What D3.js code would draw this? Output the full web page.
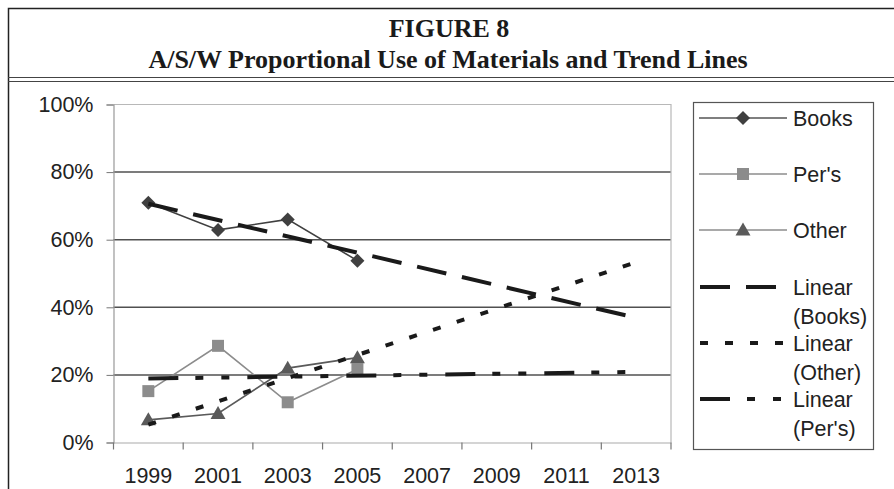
<!DOCTYPE html>
<html>
<head>
<meta charset="utf-8">
<script src="https://cdn.jsdelivr.net/npm/d3@7"></script>
<style>
  body { margin: 0; background: #fff; }
  svg { display: block; }
</style>
</head>
<body>
<div id="chart"></div>
<script>
const years = ['1999', '2001', '2003', '2005', '2007', '2009', '2011', '2013'];
const books = [0.709, 0.629, 0.660, 0.538];
const pers = [0.152, 0.286, 0.119, 0.217];
const other = [0.067, 0.086, 0.220, 0.251];
const yTicks = [0, 0.2, 0.4, 0.6, 0.8, 1];

const width = 894, height = 489;
const svg = d3.select('#chart').append('svg')
    .attr('width', width)
    .attr('height', height);

// frame + title
svg.append('path')
    .attr('d', 'M8.5,489V8.5H894')
    .attr('fill', 'none').attr('stroke', '#222').attr('stroke-width', 1.5);
svg.append('line').attr('x1', 8).attr('x2', 894).attr('y1', 77.5).attr('y2', 77.5)
    .attr('stroke', '#444').attr('stroke-width', 1.2);
svg.append('line').attr('x1', 8).attr('x2', 894).attr('y1', 81.5).attr('y2', 81.5)
    .attr('stroke', '#444').attr('stroke-width', 1.2);

const titleFont = '"Liberation Serif", "Times New Roman", serif';
svg.append('text').attr('x', 449).attr('y', 37)
    .attr('text-anchor', 'middle').attr('font-family', titleFont)
    .attr('font-weight', 'bold').attr('font-size', 26).attr('fill', '#1a1a1a')
    .text('FIGURE 8');
svg.append('text').attr('x', 448).attr('y', 67.5)
    .attr('text-anchor', 'middle').attr('font-family', titleFont)
    .attr('font-weight', 'bold').attr('font-size', 26).attr('fill', '#1a1a1a')
    .text('A/S/W Proportional Use of Materials and Trend Lines');

const font = '"Liberation Sans", Arial, sans-serif';
const plot = { left: 113.5, right: 671, top: 104.5, bottom: 442.5 };

const x = d3.scaleBand().domain(years).range([plot.left, plot.right]).padding(0);
const y = d3.scaleLinear().domain([0, 1]).range([plot.bottom, plot.top]);
const cx = i => x(years[i]) + x.bandwidth() / 2;

// gridlines
svg.append('g').selectAll('line')
    .data(yTicks.filter(t => t > 0 && t < 1))
    .join('line')
    .attr('x1', plot.left).attr('x2', plot.right)
    .attr('y1', d => y(d)).attr('y2', d => y(d))
    .attr('stroke', '#505050').attr('stroke-width', 1.5);

// plot border top/right
svg.append('path')
    .attr('d', `M${plot.left},${y(1)}H${plot.right}V${plot.bottom}`)
    .attr('fill', 'none').attr('stroke', '#b8b8b8').attr('stroke-width', 1.2);

// y axis
const yAxis = d3.axisLeft(y).tickValues(yTicks).tickFormat(d3.format('.0%')).tickSize(7).tickPadding(13);
const gy = svg.append('g').attr('transform', `translate(${plot.left},0)`).call(yAxis);
gy.select('.domain').attr('stroke', '#999').attr('stroke-width', 1.2);
gy.selectAll('.tick line').attr('stroke', '#777');
gy.selectAll('text').attr('font-family', font).attr('font-size', 21.5).attr('fill', '#222');

// x axis
const xAxis = d3.axisBottom(x).tickSize(0).tickPadding(25);
const gx = svg.append('g').attr('transform', `translate(0,${plot.bottom})`).call(xAxis);
gx.select('.domain').attr('stroke', '#aaa').attr('stroke-width', 1.2);
gx.selectAll('text').attr('font-family', font).attr('font-size', 21.5).attr('fill', '#222');
const bounds = years.map(c => x(c)).concat([x.range()[1]]);
gx.selectAll('.bound').data(bounds).join('line')
    .attr('class', 'bound')
    .attr('x1', d => d).attr('x2', d => d)
    .attr('y1', 0).attr('y2', 7)
    .attr('stroke', '#777').attr('stroke-width', 1.2);

// data series
const series = [
    { name: 'Books', values: books, color: '#404040', marker: 'diamond' },
    { name: "Per's", values: pers, color: '#8c8c8c', marker: 'square' },
    { name: 'Other', values: other, color: '#5a5a5a', marker: 'triangle' }
];

function markerPath(type) {
    if (type === 'diamond') return 'M0,-7L7,0L0,7L-7,0Z';
    if (type === 'square') return 'M-6,-6H6V6H-6Z';
    return 'M0,-7.5L7.5,5.5H-7.5Z';
}

const line = d3.line().x((d, i) => cx(i)).y(d => y(d));

series.forEach(s => {
    svg.append('path').datum(s.values)
        .attr('d', line)
        .attr('fill', 'none').attr('stroke', s.color).attr('stroke-width', 1.6);
    svg.append('g').selectAll('path').data(s.values).join('path')
        .attr('d', markerPath(s.marker))
        .attr('transform', (d, i) => `translate(${cx(i)},${y(d)})`)
        .attr('fill', s.color);
});

// linear trend lines (least squares over the 4 points, forecast to 2013)
function fit(vals) {
    const xs = vals.map((v, i) => i + 1);
    const mx = d3.mean(xs), my = d3.mean(vals);
    const b = d3.sum(xs, (xv, i) => (xv - mx) * (vals[i] - my)) / d3.sum(xs, xv => (xv - mx) ** 2);
    const a = my - b * mx;
    return [1, years.length].map(t => ({ i: t - 1, v: a + b * t }));
}

const trends = [
    { name: 'Books', values: books, dash: '30 16' },
    { name: 'Other', values: other, dash: '8 17' },
    { name: "Per's", values: pers, dash: '30 17 8 18 8 18' }
];
const tline = d3.line().x(d => cx(d.i)).y(d => y(d.v));
trends.forEach(t => {
    svg.append('path').datum(fit(t.values))
        .attr('d', tline)
        .attr('fill', 'none').attr('stroke', '#1a1a1a')
        .attr('stroke-width', 4).attr('stroke-dasharray', t.dash);
});

// legend
const lg = svg.append('g');
lg.append('rect').attr('x', 693.5).attr('y', 102.5).attr('width', 180).attr('height', 347)
    .attr('fill', '#fff').attr('stroke', '#555').attr('stroke-width', 1.2);

const legendRows = [
    { label: ['Books'], y: 118, s: series[0] },
    { label: ["Per's"], y: 174, s: series[1] },
    { label: ['Other'], y: 230, s: series[2] },
    { label: ['Linear', '(Books)'], y: 287, t: trends[0] },
    { label: ['Linear', '(Other)'], y: 343, t: trends[1] },
    { label: ['Linear', "(Per's)"], y: 399, t: trends[2] }
];

legendRows.forEach(r => {
    if (r.s) {
        lg.append('line').attr('x1', 699).attr('x2', 787).attr('y1', r.y).attr('y2', r.y)
            .attr('stroke', r.s.color === '#404040' ? '#555' : '#8c8c8c').attr('stroke-width', 1.6);
        lg.append('path').attr('d', markerPath(r.s.marker))
            .attr('transform', `translate(743,${r.y})`).attr('fill', r.s.color);
    } else {
        lg.append('line').attr('x1', 700).attr('x2', 786).attr('y1', r.y).attr('y2', r.y)
            .attr('stroke', '#1a1a1a').attr('stroke-width', 4).attr('stroke-dasharray', r.t.dash);
    }
    const txt = lg.append('text').attr('x', 793).attr('y', r.y + 7.5)
        .attr('font-family', font).attr('font-size', 21.5).attr('fill', '#222');
    r.label.forEach((l, k) => {
        txt.append('tspan').attr('x', 793).attr('dy', k === 0 ? 0 : 29.5).text(l);
    });
});
</script>
</body>
</html>
